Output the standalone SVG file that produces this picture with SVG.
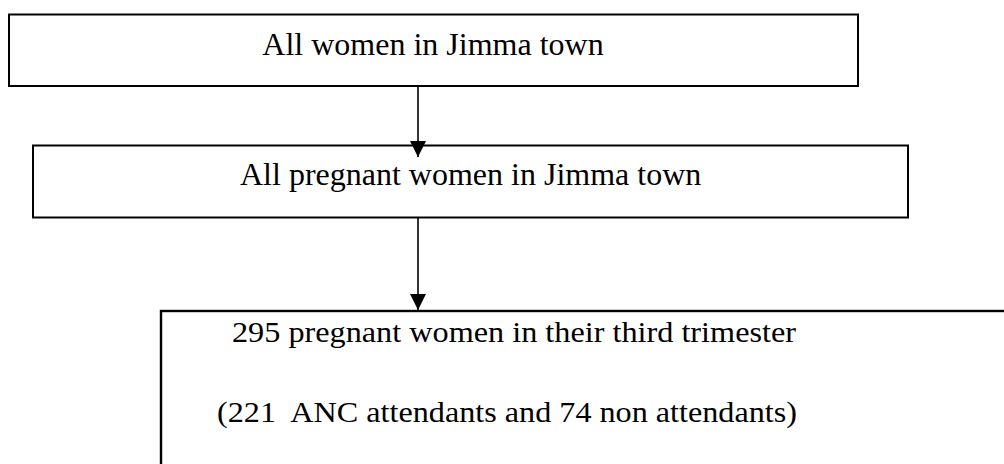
<svg xmlns="http://www.w3.org/2000/svg" width="1004" height="464" viewBox="0 0 1004 464">
<style>
.box{fill:#fff;stroke:#000;stroke-width:2}
.t{font-family:"Liberation Serif","Times New Roman",serif;font-size:32px;fill:#000}
.t3{font-family:"Liberation Serif","Times New Roman",serif;font-size:30px;fill:#000;white-space:pre}
.conn{stroke:#000;stroke-width:1.6;fill:none}
</style>
<defs>
<marker id="ah" markerUnits="userSpaceOnUse" markerWidth="16" markerHeight="16" viewBox="0 0 16 16" refX="16" refY="8" orient="auto">
<path d="M0,0 L16,8 L0,16 Z" fill="#000"/>
</marker>
</defs>
<rect width="1004" height="464" fill="#fff"/>
<g id="node1">
<rect class="box" x="9" y="14.5" width="849" height="71.5"/>
<text class="t" x="433" y="55" text-anchor="middle">All women in Jimma town</text>
</g>
<g id="node2">
<rect class="box" x="33" y="145.5" width="875" height="72"/>
<text class="t" x="240" y="185">All pregnant women in Jimma town</text>
</g>
<g id="node3">
<rect class="box" x="161" y="311" width="900" height="200" style="stroke-width:2.4"/>
<text class="t3" x="232" y="342" textLength="564" lengthAdjust="spacingAndGlyphs">295 pregnant women in their third trimester</text>
<text class="t3" x="217" y="422" xml:space="preserve" textLength="580" lengthAdjust="spacingAndGlyphs">(221  ANC attendants and 74 non attendants)</text>
</g>
<g id="connectors">
<line class="conn" x1="418" y1="86" x2="418" y2="157" marker-end="url(#ah)"/>
<line class="conn" x1="418" y1="217.5" x2="418" y2="310" marker-end="url(#ah)"/>
</g>
</svg>
